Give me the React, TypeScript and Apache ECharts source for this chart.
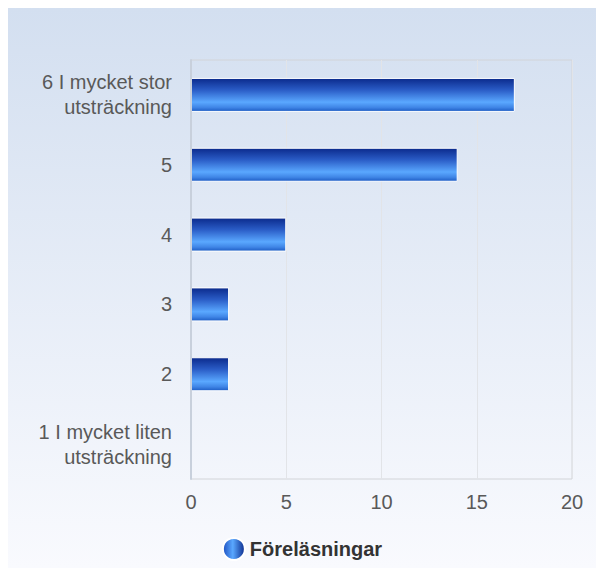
import React, { useEffect, useRef } from "react";
import * as echarts from "echarts";

const categories = [
  "1 I mycket liten\nutsträckning",
  "2",
  "3",
  "4",
  "5",
  "6 I mycket stor\nutsträckning",
];
const seriesName = "Föreläsningar";
const values = [0, 2, 2, 5, 14, 17];
const xMin = 0;
const xMax = 20;
const xInterval = 5;

const FONT = "Liberation Sans, Arial, sans-serif";

export default function App() {
  const ref = useRef<HTMLDivElement>(null);
  useEffect(() => {
    if (!ref.current) return;
    const chart = echarts.init(ref.current, undefined, { renderer: "svg" });
    const barGrad = new echarts.graphic.LinearGradient(0, 0, 0, 1, [
      { offset: 0, color: "#0b2a8c" },
      { offset: 0.35, color: "#2a5cc6" },
      { offset: 0.72, color: "#5aa8ff" },
      { offset: 0.88, color: "#3f85e6" },
      { offset: 1, color: "#1d5cc4" },
    ]);
    const legendGrad = new echarts.graphic.LinearGradient(0, 0, 1, 0, [
      { offset: 0, color: "#1d4fc0" },
      { offset: 0.45, color: "#5aa8ff" },
      { offset: 1, color: "#0b2a8c" },
    ]);
    chart.setOption({
      animation: false,
      backgroundColor: new echarts.graphic.LinearGradient(0, 0, 0, 1, [
        { offset: 0, color: "#d3dff0" },
        { offset: 1, color: "#f9fafe" },
      ]),
      textStyle: { fontFamily: FONT },
      grid: {
        left: 183,
        top: 52,
        right: 24,
        bottom: 89,
        show: true,
        borderColor: "#d2d4d8",
        borderWidth: 1,
        backgroundColor: "transparent",
      },
      legend: {
        bottom: 2,
        left: "center",
        icon: "circle",
        itemWidth: 22,
        itemHeight: 22,
        itemGap: 8,
        textStyle: {
          fontFamily: FONT,
          fontSize: 20,
          fontWeight: "bold",
          color: "#333333",
        },
        data: [{ name: seriesName, itemStyle: { color: legendGrad } }],
      },
      xAxis: {
        type: "value",
        min: xMin,
        max: xMax,
        interval: xInterval,
        axisLine: { show: false },
        axisTick: { show: false },
        splitLine: { show: true, lineStyle: { color: "#e2e4e8", width: 1 } },
        axisLabel: {
          color: "#595959",
          fontSize: 20,
          fontFamily: FONT,
          margin: 13,
        },
      },
      yAxis: {
        type: "category",
        z: 3,
        data: categories,
        axisLine: { show: true, lineStyle: { color: "#c8d0dc", width: 2 } },
        axisTick: { show: false },
        splitLine: { show: false },
        axisLabel: {
          color: "#595959",
          fontSize: 20,
          fontFamily: FONT,
          margin: 19,
          lineHeight: 25,
          align: "right",
        },
      },
      series: [
        {
          name: seriesName,
          type: "bar",
          data: values,
          barWidth: 34,
          itemStyle: {
            color: barGrad,
            borderColor: "#ffffff",
            borderWidth: 1,
          },
        },
      ],
    });
    return () => chart.dispose();
  }, []);
  return (
    <div
      ref={ref}
      style={{ position: "absolute", left: 8, top: 8, width: 588, height: 560 }}
    />
  );
}
